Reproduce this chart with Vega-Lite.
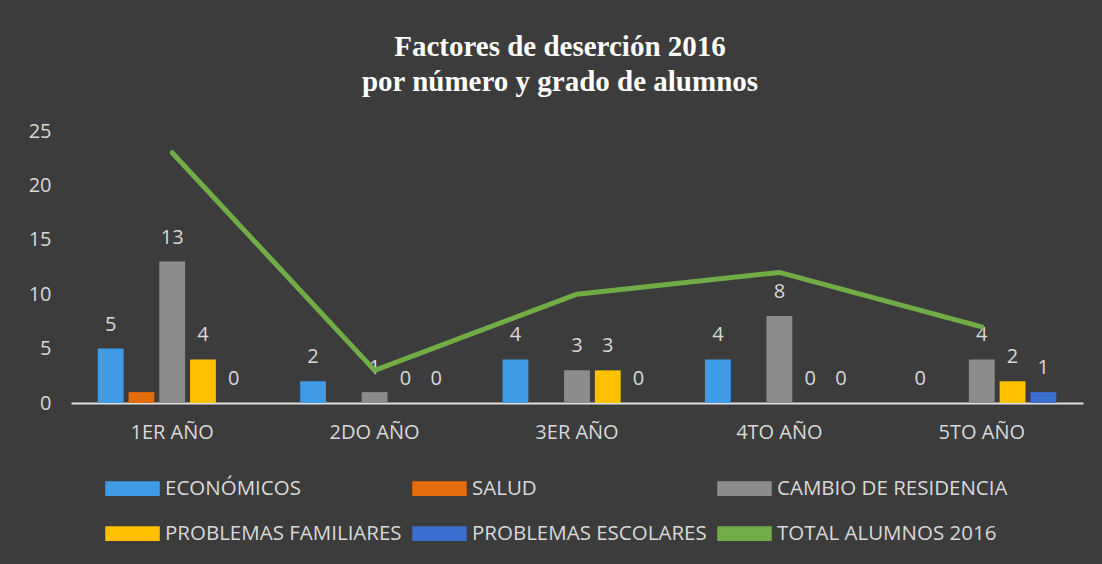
{
  "$schema": "https://vega.github.io/schema/vega-lite/v6.json",
  "autosize": {"type": "none"},
  "width": 1012,
  "height": 272,
  "padding": {"left": 71, "top": 131, "right": 19, "bottom": 161},
  "background": "#3c3c3c",
  "title": {
    "text": ["Factores de deserción 2016", "por número y grado de alumnos"],
    "font": "Liberation Serif",
    "fontWeight": "bold",
    "fontSize": 29,
    "lineHeight": 35,
    "color": "#ffffff",
    "anchor": "middle",
    "frame": "group",
    "dx": -17,
    "offset": 24
  },
  "data": {
    "values": [
      {"grado": "1ER  AÑO", "serie": "ECONÓMICOS", "valor": 5},
      {"grado": "1ER  AÑO", "serie": "SALUD", "valor": 1},
      {"grado": "1ER  AÑO", "serie": "CAMBIO DE RESIDENCIA", "valor": 13},
      {"grado": "1ER  AÑO", "serie": "PROBLEMAS FAMILIARES", "valor": 4},
      {"grado": "1ER  AÑO", "serie": "PROBLEMAS ESCOLARES", "valor": 0},
      {"grado": "1ER  AÑO", "serie": "TOTAL ALUMNOS 2016", "valor": 23},
      {"grado": "2DO AÑO", "serie": "ECONÓMICOS", "valor": 2},
      {"grado": "2DO AÑO", "serie": "SALUD", "valor": 0},
      {"grado": "2DO AÑO", "serie": "CAMBIO DE RESIDENCIA", "valor": 1},
      {"grado": "2DO AÑO", "serie": "PROBLEMAS FAMILIARES", "valor": 0},
      {"grado": "2DO AÑO", "serie": "PROBLEMAS ESCOLARES", "valor": 0},
      {"grado": "2DO AÑO", "serie": "TOTAL ALUMNOS 2016", "valor": 3},
      {"grado": "3ER AÑO", "serie": "ECONÓMICOS", "valor": 4},
      {"grado": "3ER AÑO", "serie": "SALUD", "valor": 0},
      {"grado": "3ER AÑO", "serie": "CAMBIO DE RESIDENCIA", "valor": 3},
      {"grado": "3ER AÑO", "serie": "PROBLEMAS FAMILIARES", "valor": 3},
      {"grado": "3ER AÑO", "serie": "PROBLEMAS ESCOLARES", "valor": 0},
      {"grado": "3ER AÑO", "serie": "TOTAL ALUMNOS 2016", "valor": 10},
      {"grado": "4TO AÑO", "serie": "ECONÓMICOS", "valor": 4},
      {"grado": "4TO AÑO", "serie": "SALUD", "valor": 0},
      {"grado": "4TO AÑO", "serie": "CAMBIO DE RESIDENCIA", "valor": 8},
      {"grado": "4TO AÑO", "serie": "PROBLEMAS FAMILIARES", "valor": 0},
      {"grado": "4TO AÑO", "serie": "PROBLEMAS ESCOLARES", "valor": 0},
      {"grado": "4TO AÑO", "serie": "TOTAL ALUMNOS 2016", "valor": 12},
      {"grado": "5TO AÑO", "serie": "ECONÓMICOS", "valor": 0},
      {"grado": "5TO AÑO", "serie": "SALUD", "valor": 0},
      {"grado": "5TO AÑO", "serie": "CAMBIO DE RESIDENCIA", "valor": 4},
      {"grado": "5TO AÑO", "serie": "PROBLEMAS FAMILIARES", "valor": 2},
      {"grado": "5TO AÑO", "serie": "PROBLEMAS ESCOLARES", "valor": 1},
      {"grado": "5TO AÑO", "serie": "TOTAL ALUMNOS 2016", "valor": 7}
    ]
  },
  "encoding": {
    "x": {
      "field": "grado",
      "type": "nominal",
      "sort": null,
      "scale": {"paddingInner": 0.24, "paddingOuter": 0.12},
      "axis": {
        "title": null,
        "labelAngle": 0,
        "labelFont": "Open Sans",
        "labelFontSize": 20,
        "labelColor": "#d9d9d9",
        "labelPadding": 19,
        "ticks": false,
        "domainColor": "#e0e0e0",
        "domainWidth": 2
      }
    },
    "y": {
      "field": "valor",
      "type": "quantitative",
      "scale": {"domain": [0, 25]},
      "axis": {
        "title": null,
        "values": [0, 5, 10, 15, 20, 25],
        "grid": false,
        "domain": false,
        "ticks": false,
        "labelFont": "Open Sans",
        "labelFontSize": 20,
        "labelColor": "#d9d9d9",
        "labelPadding": 20
      }
    }
  },
  "layer": [
    {
      "transform": [{"filter": "datum.serie !== 'TOTAL ALUMNOS 2016'"}],
      "mark": {"type": "bar"},
      "encoding": {
        "xOffset": {
          "field": "serie",
          "type": "nominal",
          "scale": {
            "domain": ["ECONÓMICOS", "SALUD", "CAMBIO DE RESIDENCIA", "PROBLEMAS FAMILIARES", "PROBLEMAS ESCOLARES"],
            "paddingInner": 0.16,
            "paddingOuter": 0.08
          }
        },
        "color": {
          "field": "serie",
          "type": "nominal",
          "scale": {
            "domain": ["ECONÓMICOS", "SALUD", "CAMBIO DE RESIDENCIA", "PROBLEMAS FAMILIARES", "PROBLEMAS ESCOLARES", "TOTAL ALUMNOS 2016"],
            "range": ["#3f9be6", "#e46c0a", "#8c8c8c", "#ffc000", "#3a6fd0", "#70ad47"]
          },
          "legend": {
            "title": null,
            "orient": "none",
            "legendX": 34,
            "legendY": 330,
            "direction": "horizontal",
            "columns": 3,
            "columnPadding": 8,
            "rowPadding": 7,
            "symbolType": "M-1,-0.25L1,-0.25L1,0.25L-1,0.25Z",
            "symbolSize": 2809,
            "symbolStrokeColor": "#000000",
            "symbolStrokeWidth": 1.5,
            "symbolOpacity": 1,
            "labelFont": "Open Sans",
            "labelFontSize": 20.5,
            "labelColor": "#d9d9d9",
            "labelOffset": 5,
            "labelLimit": 400
          }
        }
      }
    },
    {
      "transform": [{"filter": "datum.serie !== 'TOTAL ALUMNOS 2016' && datum.serie !== 'SALUD'"}],
      "mark": {"type": "text", "baseline": "bottom", "dy": -14, "font": "Open Sans", "fontSize": 20, "color": "#d9d9d9"},
      "encoding": {
        "xOffset": {"field": "serie", "type": "nominal"},
        "text": {"field": "valor", "type": "quantitative"}
      }
    },
    {
      "transform": [{"filter": "datum.serie === 'TOTAL ALUMNOS 2016'"}],
      "mark": {"type": "line", "strokeWidth": 5, "strokeCap": "round", "strokeJoin": "round"},
      "encoding": {
        "color": {"field": "serie", "type": "nominal"}
      }
    }
  ],
  "config": {
    "view": {"stroke": null}
  }
}
